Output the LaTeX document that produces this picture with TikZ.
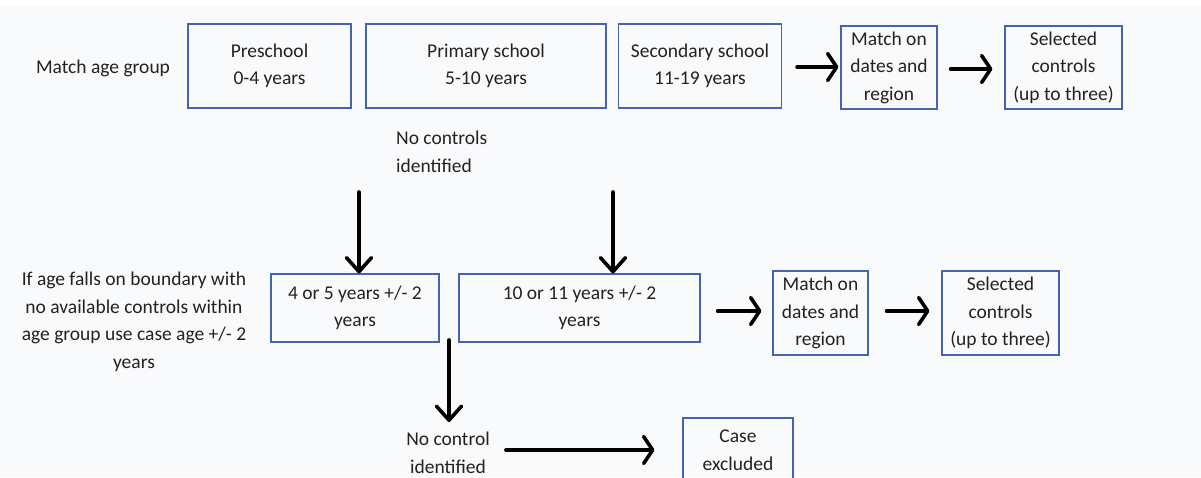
\documentclass[tikz,border=0pt]{standalone}
\usepackage{fontspec}
\setmainfont{Carlito}
\usetikzlibrary{arrows.meta}
\definecolor{bg}{RGB}{249,250,252}
\definecolor{txt}{RGB}{38,32,32}
\definecolor{boxblue}{RGB}{68,100,178}
\begin{document}
\begin{tikzpicture}[x=1pt,y=-1pt,
  every node/.style={text=txt,font=\fontsize{19.5}{27.5}\selectfont,inner sep=0pt},
  box/.style={draw=boxblue,line width=1.1pt,align=center},
  lbl/.style={align=center},
  harrow/.style={line width=3.6pt,line cap=round,-{Straight Barb[length=9pt,width=27pt,line cap=round,line join=round]}},
  varrow/.style={line width=3.6pt,line cap=round,-{Straight Barb[length=14pt,width=25pt,line cap=round,line join=round]}}]
\useasboundingbox (0,0) rectangle (1201,477);
\fill[white] (0,0) rectangle (1201,477);
\fill[bg] (0,7) rectangle (1201,477);
\clip (0,0) rectangle (1201,477);

% top row
\node[lbl] (mag) at (103,68) {Match age group};
\node[box,minimum width=163pt,minimum height=84pt] (pre) at (269.5,66) {Preschool\\0-4 years};
\node[box,minimum width=240pt,minimum height=84pt] (prim) at (486,66) {Primary school\\5-10 years};
\node[box,minimum width=163pt,minimum height=84pt] (sec) at (700,66) {Secondary school\\11-19 years};
\node[box,minimum width=96pt,minimum height=83pt] (m1) at (889,67.5) {Match on\\dates and\\region};
\node[box,minimum width=117pt,minimum height=83pt] (s1) at (1063.5,67.5) {Selected\\controls\\(up to three)};

\node[align=left,anchor=west] (nci) at (396,152) {No controls\\identified};

% lower row
\node[lbl] (rule) at (134,322) {If age falls on boundary with\\no available controls within\\age group use case age +/- 2\\years};
\node[box,minimum width=168pt,minimum height=68pt] (b1) at (355,308) {4 or 5 years +/- 2\\years};
\node[box,minimum width=241pt,minimum height=68pt] (b2) at (579.5,308) {10 or 11 years +/- 2\\years};
\node[box,minimum width=95pt,minimum height=84pt] (m2) at (820.5,313) {Match on\\dates and\\region};
\node[box,minimum width=117pt,minimum height=84pt] (s2) at (1000.5,313) {Selected\\controls\\(up to three)};

\node[lbl] (nc) at (448,453) {No control\\identified};
\node[box,minimum width=110pt,minimum height=64pt] (case) at (738,450) {Case\\excluded};

% connectors
\coordinate (a1) at (359,192);
\coordinate (a2) at (613,192);
\coordinate (a3) at (449,340);

\draw[harrow,shorten <=15pt,shorten >=2pt] (sec.east |- 0,67) -- (m1.west |- 0,67);
\draw[harrow,shorten <=13pt,shorten >=12pt] (m1.east |- 0,69) -- (s1.west |- 0,69);
\draw[varrow] (a1) -- (a1 |- b1.north);
\draw[varrow] (a2) -- (a2 |- b2.north);
\draw[harrow,shorten <=17pt,shorten >=11pt] (b2.east |- 0,311) -- (m2.west |- 0,311);
\draw[harrow,shorten <=18pt,shorten >=12pt] (m2.east |- 0,311) -- (s2.west |- 0,311);
\draw[varrow] (a3) -- (a3 |- 0,422);
\draw[harrow,shorten <=16pt,shorten >=28pt] (nc.east |- 0,450) -- (case.west |- 0,450);
\end{tikzpicture}
\end{document}
